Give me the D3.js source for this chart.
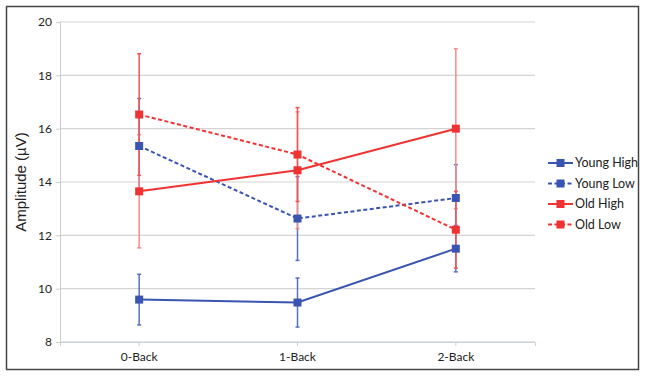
<!DOCTYPE html>
<html>
<head>
<meta charset="utf-8">
<script src="https://cdn.jsdelivr.net/npm/d3@7"></script>
<style>
  body { margin: 0; background: #fff; }
  text { font-family: Lato, "Open Sans", sans-serif; fill: #222; }
</style>
</head>
<body>
<div id="chart"></div>
<script>
// data
var categories = ["0-Back", "1-Back", "2-Back"];
var yTicks = [8, 10, 12, 14, 16, 18, 20];

var youngHigh = [9.59, 9.48, 11.5];
var youngHighErr = [0.95, 0.92, 0.87];
var youngLow = [15.35, 12.63, 13.4];
var youngLowErr = [1.78, 1.57, 1.25];
var oldHigh = [13.65, 14.44, 16.0];
var oldHighErr = [2.12, 2.19, 3.0];
var oldLow = [16.53, 15.03, 12.21];
var oldLowErr = [2.28, 1.76, 1.44];

var series = [
  {name: "Young High", values: youngHigh, err: youngHighErr, color: "#3a54b2", dash: null, errColor: "#5b6fbf"},
  {name: "Young Low", values: youngLow, err: youngLowErr, color: "#3a54b2", dash: "4,2.5", errColor: "#5b6fbf"},
  {name: "Old High", values: oldHigh, err: oldHighErr, color: "#f03232", dash: null, errColor: "#f58a8a"},
  {name: "Old Low", values: oldLow, err: oldLowErr, color: "#f03232", dash: "4,2.5", errColor: "#f25555"}
];

var width = 645, height = 376;
var margin = {top: 22, right: 110, bottom: 34, left: 60};

var svg = d3.select("#chart").append("svg")
    .attr("width", width)
    .attr("height", height);

// outer frame
svg.append("rect")
    .attr("x", 6.5).attr("y", 6.5)
    .attr("width", 632).attr("height", 363)
    .attr("fill", "none")
    .attr("stroke", "#444")
    .attr("stroke-width", 1.5);

var x = d3.scaleBand()
    .domain(categories)
    .range([margin.left, width - margin.right])
    .padding(0);

var y = d3.scaleLinear()
    .domain([8, 20])
    .range([height - margin.bottom, margin.top]);

var cx = function(i) { return x(categories[i]) + x.bandwidth() / 2; };

// gridlines
svg.append("g")
    .selectAll("line")
    .data(yTicks)
  .enter().append("line")
    .attr("x1", margin.left)
    .attr("x2", width - margin.right)
    .attr("y1", function(d) { return y(d); })
    .attr("y2", function(d) { return y(d); })
    .attr("stroke", function(d) { return d === 8 ? "#c8cdd6" : "#d4d4d4"; })
    .attr("stroke-width", 1.2);

// y axis
var yAxis = svg.append("g")
    .attr("transform", "translate(" + margin.left + ",0)")
    .call(d3.axisLeft(y).tickValues(yTicks).tickSize(4).tickPadding(4));
yAxis.select(".domain").attr("stroke", "#ccc");
yAxis.selectAll(".tick line").attr("stroke", "#ccc");
yAxis.selectAll("text").style("font-size", "12px").attr("fill", "#222");

// x axis
var xAxis = svg.append("g")
    .attr("transform", "translate(0," + y(8) + ")")
    .call(d3.axisBottom(x).tickSize(4).tickPadding(6));
xAxis.select(".domain").attr("stroke", "#ccd0d8");
xAxis.selectAll(".tick line").attr("stroke", "#ccc");
xAxis.selectAll("text").style("font-size", "12px").attr("fill", "#222");

svg.append("text")
    .attr("transform", "translate(26," + y(14) + ") rotate(-90)")
    .attr("text-anchor", "middle")
    .style("font-family", "'Liberation Sans', Arial, sans-serif")
    .style("font-size", "15px")
    .text("Amplitude (µV)");

// error bars (blue first, red drawn over)
series.forEach(function(s) {
  var g = svg.append("g")
      .attr("stroke", s.errColor)
      .attr("stroke-width", 1.5);
  s.values.forEach(function(v, i) {
    var top = y(v + s.err[i]), bot = y(v - s.err[i]);
    g.append("line").attr("x1", cx(i)).attr("x2", cx(i)).attr("y1", top).attr("y2", bot);
    g.append("line").attr("x1", cx(i) - 2).attr("x2", cx(i) + 2).attr("y1", top).attr("y2", top);
    g.append("line").attr("x1", cx(i) - 2).attr("x2", cx(i) + 2).attr("y1", bot).attr("y2", bot);
  });
});

var line = d3.line()
    .x(function(d, i) { return cx(i); })
    .y(function(d) { return y(d); });

series.forEach(function(s) {
  svg.append("path")
      .datum(s.values)
      .attr("fill", "none")
      .attr("stroke", s.color)
      .attr("stroke-width", 2)
      .attr("stroke-dasharray", s.dash)
      .attr("d", line);
  svg.append("g").selectAll("rect")
      .data(s.values)
    .enter().append("rect")
      .attr("x", function(d, i) { return cx(i) - 4; })
      .attr("y", function(d) { return y(d) - 4; })
      .attr("width", 8)
      .attr("height", 8)
      .attr("fill", s.color);
});

// legend
var legend = svg.append("g")
    .attr("transform", "translate(548,163)");
var item = legend.selectAll("g")
    .data(series)
  .enter().append("g")
    .attr("transform", function(d, i) { return "translate(0," + (i * 20.5) + ")"; });
item.append("line")
    .attr("x1", 0).attr("x2", 25)
    .attr("stroke", function(d) { return d.color; })
    .attr("stroke-width", 2)
    .attr("stroke-dasharray", function(d) { return d.dash; });
item.append("rect")
    .attr("x", 8.5).attr("y", -4)
    .attr("width", 8).attr("height", 8)
    .attr("fill", function(d) { return d.color; });
item.append("text")
    .attr("x", 27)
    .attr("dy", "0.35em")
    .style("font-size", "12.5px")
    .text(function(d) { return d.name; });
</script>
</body>
</html>
